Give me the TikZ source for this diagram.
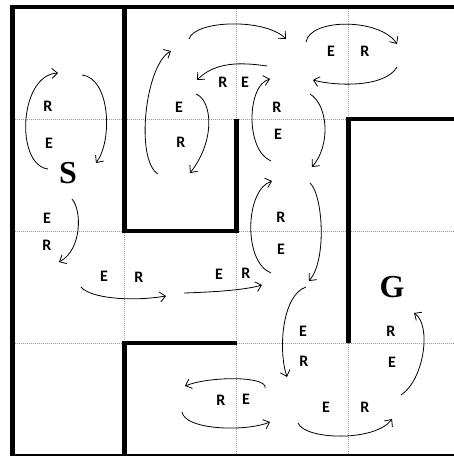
\documentclass[tikz,border=0pt]{standalone}
\usepackage{fontspec}
\newfontfamily\lblfont{Carlito}
\newfontfamily\bigfont{Liberation Serif}
\usetikzlibrary{arrows.meta}
\begin{document}
\begin{tikzpicture}[x=1pt,y=-1pt,
  wall/.style={line width=4.5pt, line join=miter},
  gridline/.style={gray!80, line width=0.6pt, dash pattern=on 1pt off 1pt},
  move/.style={line width=0.8pt, -{Straight Barb[length=5.5pt,width=10pt]}},
  lbl/.style={font=\lblfont\bfseries\fontsize{16}{16}\selectfont, inner sep=0pt},
  big/.style={font=\bigfont\bfseries\fontsize{32}{32}\selectfont, inner sep=0pt}]
\useasboundingbox (0,0) rectangle (454,456);
\clip (0,0) rectangle (454,456);
\fill[white] (0,0) rectangle (454,456);
% grid
\foreach \x in {124.5,236.5,348.5} \draw[gridline] (\x,7) -- (\x,456);
\foreach \y in {119,231,343} \draw[gridline] (12.5,\y) -- (454,\y);
% walls
\draw[wall] (12.5,460) -- (12.5,7) -- (460,7);
\draw[wall] (10,456) -- (460,456);
\draw[wall] (124.5,7) -- (124.5,231) -- (236.5,231) -- (236.5,119);
\draw[wall] (348.5,343) -- (348.5,119) -- (460,119);
\draw[wall] (236.5,343) -- (124.5,343) -- (124.5,460);
% labels
\node[big] (S) at (68,173) {S};
\node[big] (G) at (392,287) {G};
\node[lbl] (e1) at (331,51) {E};   \node[lbl] (r1) at (365,51) {R};
\node[lbl] (r2) at (223,82) {R};   \node[lbl] (e2) at (245,82) {E};
\node[lbl] (r3) at (48,106) {R};   \node[lbl] (e3) at (49,143) {E};
\node[lbl] (e4) at (179,107) {E};  \node[lbl] (r4) at (181,142) {R};
\node[lbl] (r5) at (277,107) {R};  \node[lbl] (e5) at (278,134) {E};
\node[lbl] (r6) at (281,217) {R};  \node[lbl] (e6) at (281,249) {E};
\node[lbl] (e7) at (47,218) {E};   \node[lbl] (r7) at (47,245) {R};
\node[lbl] (e8) at (104,276) {E};  \node[lbl] (r8) at (139,277) {R};
\node[lbl] (e9) at (219,274) {E};  \node[lbl] (r9) at (246,273) {R};
\node[lbl] (e10) at (303,331) {E}; \node[lbl] (r10) at (391,331) {R};
\node[lbl] (r11) at (304,361) {R}; \node[lbl] (e11) at (392,362) {E};
\node[lbl] (r12) at (221,400) {R}; \node[lbl] (e12) at (246,399) {E};
\node[lbl] (e13) at (326,407) {E}; \node[lbl] (r13) at (365,407) {R};
% moves
\draw[move] (48,169) .. controls (15,165) and (19,75) .. (58,73);
\draw[move] (82,75) .. controls (110,78) and (113,140) .. (96,163);
\draw[move] (72,199) .. controls (82,210) and (82,250) .. (59,262);
\draw[move] (81,287) .. controls (90,298) and (130,302) .. (166,296);
\draw[move] (184,293) .. controls (215,292) and (245,290) .. (262,285);
\draw[move] (158,174) .. controls (135,160) and (145,65) .. (171,51);
\draw[move] (196,94) .. controls (212,100) and (216,140) .. (190,173);
\draw[move] (189,39) .. controls (195,20) and (265,18) .. (286,39);
\draw[move] (267,66) .. controls (240,62) and (215,62) .. (197,80);
\draw[move] (306,42) .. controls (310,18) and (380,18) .. (397,44);
\draw[move] (397,67) .. controls (385,88) and (335,86) .. (313,80);
\draw[move] (271,161) .. controls (245,150) and (247,85) .. (270,79);
\draw[move] (310,94) .. controls (328,105) and (331,145) .. (312,167);
\draw[move] (271,273) .. controls (243,262) and (245,190) .. (272,181);
\draw[move] (310,183) .. controls (323,195) and (327,260) .. (309,281);
\draw[move] (306,287) .. controls (282,295) and (278,350) .. (287,377);
\draw[move] (298,423) .. controls (305,440) and (375,442) .. (392,419);
\draw[move] (401,395) .. controls (424,380) and (432,325) .. (414,313);
\draw[move] (265,388) .. controls (268,376) and (210,376) .. (185,386);
\draw[move] (182,412) .. controls (185,430) and (245,432) .. (270,422);
\end{tikzpicture}
\end{document}
